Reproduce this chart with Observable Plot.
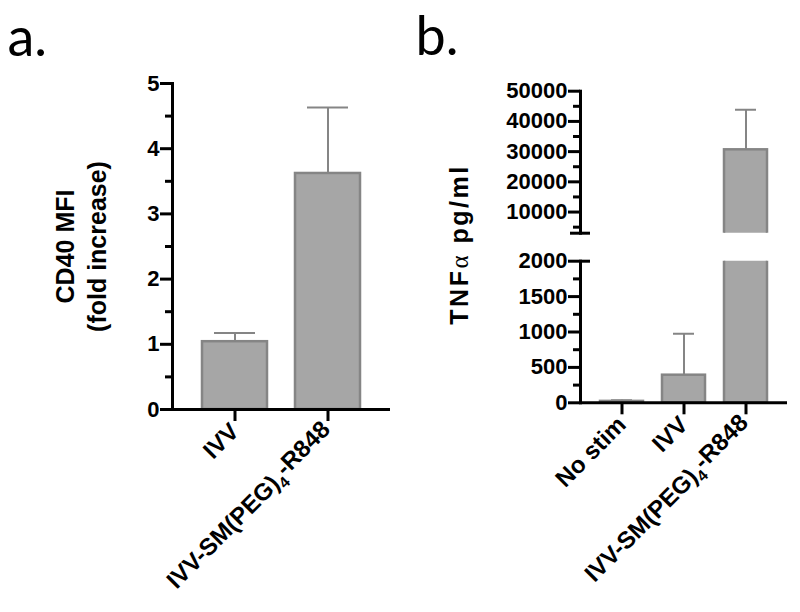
<!DOCTYPE html>
<html><head><meta charset="utf-8">
<script src="https://cdn.jsdelivr.net/npm/d3@7"></script>
<script src="https://cdn.jsdelivr.net/npm/@observablehq/plot@0.6"></script>
<style>
body{margin:0;background:#fff;}
#chart{position:relative;width:800px;height:612px;}
#chart svg{position:absolute;top:0;}
</style></head><body><div id="chart"></div>
<script>
// Panel a
const catsA = ["IVV", "IVV-SM(PEG)4-R848"];
const valuesA = [1.04, 3.62];
const errorsA = [0.135, 1.01];
const ticksA = [0, 1, 2, 3, 4, 5];
const minorTicksA = [0.5, 1.5, 2.5, 3.5, 4.5];
const yLabelA = "CD40 MFI\n(fold increase)";

// Panel b
const catsB = ["No stim", "IVV", "IVV-SM(PEG)4-R848"];
const valuesB = [20, 390, 30600];
const errorsB = [15, 585, 13300];
const ticksBLow = [0, 500, 1000, 1500, 2000];
const minorBLow = [250, 750, 1250, 1750];
const ticksBHigh = [10000, 20000, 30000, 40000, 50000];
const minorBHigh = [5000, 15000, 25000, 35000, 45000];
const domainBLow = [0, 2000];
const domainBHigh = [3000, 50000];
const yLabelB = "TNFα pg/ml";

const dataA = catsA.map((c, i) => ({cat: c, value: valuesA[i], err: errorsA[i]}));
const dataB = catsB.map((c, i) => ({cat: c, value: valuesB[i], err: errorsB[i]}));

const FILL = "#a6a6a6", STROKE = "#858585";
const FONT = "'Liberation Sans', Arial, Helvetica, sans-serif";
const baseStyle = {background: "transparent", fontFamily: FONT, color: "#000", overflow: "visible"};
const fmt = d => String(d);
const chart = document.getElementById("chart");

function bars(data, capInset, clip) {
  return [
    Plot.barY(data, {x: "cat", y: "value", fill: FILL, stroke: STROKE, strokeWidth: 2.5, inset: 0, clip}),
    Plot.ruleX(data, {x: "cat", y1: "value", y2: d => d.value + d.err, stroke: STROKE, strokeWidth: 2, clip}),
    Plot.tickY(data, {x: "cat", y: d => d.value + d.err, stroke: STROKE, strokeWidth: 2, insetLeft: capInset, insetRight: capInset, clip})
  ];
}

// ---- Panel a ----
const pa = Plot.plot({
  width: 400, height: 612,
  marginLeft: 172, marginRight: 10, marginTop: 83, marginBottom: 203,
  style: baseStyle,
  x: {type: "band", domain: catsA, paddingInner: 0.3, paddingOuter: 0.32, axis: null},
  y: {domain: [0, 5], axis: null},
  marks: [
    ...bars(dataA, 12, false),
    Plot.ruleY([0], {strokeWidth: 3}),
    Plot.frame({anchor: "left", strokeWidth: 3}),
    Plot.axisY({ticks: ticksA, tickFormat: fmt, tickSize: 12, tickPadding: 1, strokeWidth: 3, fontSize: 22, fontWeight: "bold", label: null}),
    Plot.axisY({ticks: minorTicksA, tickSize: 7, strokeWidth: 3, tickFormat: () => "", label: null}),
    Plot.axisX({tickSize: 12, strokeWidth: 3, tickRotate: -45, tickPadding: 6, fontSize: 24, fontWeight: "bold", label: null}),
    Plot.text([yLabelA], {text: d => d, frameAnchor: "left", dx: -93, rotate: -90, fontSize: 25, fontWeight: "bold", lineHeight: 1.3, textAnchor: "middle"}),
    Plot.text(["a."], {text: d => d, frameAnchor: "top-left", dx: -165, dy: -28, textAnchor: "start", lineAnchor: "bottom", fontSize: 54, fontFamily: "Lato, 'Open Sans', sans-serif", fontWeight: "normal"})
  ]
});
pa.style.left = "0px";
chart.appendChild(pa);

// ---- Panel b (upper segment) ----
const pbTop = Plot.plot({
  width: 400, height: 612,
  marginLeft: 180, marginRight: 13, marginTop: 90.7, marginBottom: 379.3,
  style: baseStyle,
  x: {type: "band", domain: catsB, paddingInner: 0.3, paddingOuter: 0.306, axis: null},
  y: {domain: domainBHigh, axis: null},
  marks: [
    ...bars(dataB, 11, true),
    Plot.frame({anchor: "left", strokeWidth: 3}),
    Plot.axisY({ticks: ticksBHigh, tickFormat: fmt, tickSize: 12, tickPadding: 1, strokeWidth: 3, fontSize: 22, fontWeight: "bold", label: null}),
    Plot.axisY({ticks: minorBHigh, tickSize: 7, strokeWidth: 3, tickFormat: () => "", label: null}),
    Plot.axisY({ticks: [domainBHigh[0]], tickSize: 10, strokeWidth: 3, tickFormat: () => "", label: null}),
    Plot.tickY([domainBHigh[0]], {y: d => d, strokeWidth: 3, insetRight: 197}),
    Plot.text(["b."], {text: d => d, frameAnchor: "top-left", dx: -165, dy: -35.7, textAnchor: "start", lineAnchor: "bottom", fontSize: 54, fontFamily: "Lato, 'Open Sans', sans-serif", fontWeight: "normal"})
  ]
});
pbTop.style.left = "400px";
chart.appendChild(pbTop);

// ---- Panel b (lower segment) ----
const pbLow = Plot.plot({
  width: 400, height: 612,
  marginLeft: 180, marginRight: 13, marginTop: 260.7, marginBottom: 209.7,
  style: baseStyle,
  x: {type: "band", domain: catsB, paddingInner: 0.3, paddingOuter: 0.306, axis: null},
  y: {domain: domainBLow, axis: null},
  marks: [
    ...bars(dataB, 11, true),
    Plot.ruleY([0], {strokeWidth: 3}),
    Plot.frame({anchor: "left", strokeWidth: 3}),
    Plot.axisY({ticks: ticksBLow, tickFormat: fmt, tickSize: 12, tickPadding: 1, strokeWidth: 3, fontSize: 22, fontWeight: "bold", label: null}),
    Plot.axisY({ticks: minorBLow, tickSize: 7, strokeWidth: 3, tickFormat: () => "", label: null}),
    Plot.tickY([domainBLow[1]], {y: d => d, strokeWidth: 3, insetRight: 197}),
    Plot.axisX({tickSize: 12, strokeWidth: 3, tickRotate: -45, tickPadding: 6, fontSize: 24, fontWeight: "bold", label: null}),
    Plot.text([yLabelB], {text: d => d, frameAnchor: "left", dx: -121, dy: -87.5, rotate: -90, fontSize: 25, fontWeight: "bold", textAnchor: "middle"})
  ]
});
pbLow.style.left = "400px";
chart.appendChild(pbLow);

// subscript for (PEG)4 and Greek alpha styling
d3.select(chart).selectAll("text").each(function() {
  const t = d3.select(this);
  const s = this.textContent;
  if (s === "IVV-SM(PEG)4-R848") {
    t.text(null);
    t.append("tspan").text("IVV-SM(PEG)");
    t.append("tspan").attr("font-size", "0.65em").attr("dy", "0.35em").text("4");
    t.append("tspan").attr("dy", "-0.35em").text("-R848");
  } else if (s === yLabelB) {
    t.text(null);
    t.attr("letter-spacing", "2.5px");
    t.append("tspan").text("TNF");
    t.append("tspan").attr("font-weight", "normal").attr("font-family", "'Liberation Serif', serif").text("α");
    t.append("tspan").text(" pg/ml");
  }
});
</script></body></html>
